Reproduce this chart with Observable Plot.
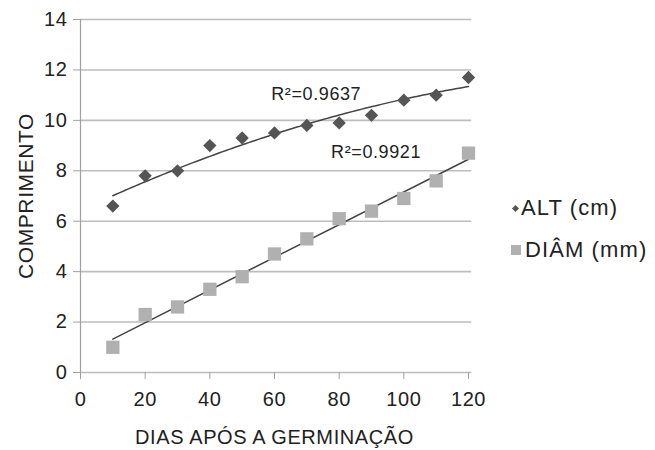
<!DOCTYPE html>
<html>
<head>
<meta charset="utf-8">
<script src="https://cdn.jsdelivr.net/npm/d3@7"></script>
<script src="https://cdn.jsdelivr.net/npm/@observablehq/plot@0.6"></script>
<style>
  html, body { margin: 0; padding: 0; background: #fff; }
  #wrap { position: relative; width: 655px; height: 450px; font-family: "Liberation Sans", Arial, sans-serif; }
  #legend { position: absolute; left: 510px; top: 187px; font-size: 22px; letter-spacing: 1.1px; color: #222; line-height: 42px; }
  #legend .it { display: flex; align-items: center; white-space: nowrap; }
  #legend .dia { width: 5px; height: 5px; background: #555; transform: rotate(45deg); margin: 0 3px 0 3px; }
  #legend .sq { width: 10px; height: 10px; background: #b0b0b0; margin: 0 4px 0 1px; }
  svg text { letter-spacing: 0.6px; }
</style>
</head>
<body>
<div id="wrap"></div>
<script>
// Data
const dias = [10, 20, 30, 40, 50, 60, 70, 80, 90, 100, 110, 120];
const alt  = [6.6, 7.8, 8.0, 9.0, 9.3, 9.5, 9.8, 9.9, 10.2, 10.8, 11.0, 11.7];
const diam = [1.0, 2.3, 2.6, 3.3, 3.8, 4.7, 5.3, 6.1, 6.4, 6.9, 7.6, 8.7];
const seriesNames = ["ALT (cm)", "DIÂM (mm)"];
const r2Labels = ["R²=0.9637", "R²=0.9921"];
const r2LabelX = [59, 77.5];    // data units
const r2LabelY = [11.05, 8.75]; // data units
const xTicks = [0, 20, 40, 60, 80, 100, 120];
const yTicks = [0, 2, 4, 6, 8, 10, 12, 14];

const altData = dias.map((d, i) => ({x: d, y: alt[i]}));
const diamData = dias.map((d, i) => ({x: d, y: diam[i]}));

// Second-order polynomial trend for ALT (least squares), as in the original spreadsheet
function polyFit2(xs, ys) {
  const S = k => d3.sum(xs, x => x ** k);
  const T = k => d3.sum(xs, (x, i) => x ** k * ys[i]);
  const A = [[S(0), S(1), S(2)], [S(1), S(2), S(3)], [S(2), S(3), S(4)]];
  const B = [T(0), T(1), T(2)];
  for (let c = 0; c < 3; c++) {
    for (let r = c + 1; r < 3; r++) {
      const f = A[r][c] / A[c][c];
      for (let k = c; k < 3; k++) A[r][k] -= f * A[c][k];
      B[r] -= f * B[c];
    }
  }
  const co = [0, 0, 0];
  for (let r = 2; r >= 0; r--) {
    let s = B[r];
    for (let k = r + 1; k < 3; k++) s -= A[r][k] * co[k];
    co[r] = s / A[r][r];
  }
  return x => co[0] + co[1] * x + co[2] * x * x;
}
const altFn = polyFit2(dias, alt);
const [x0, x1] = d3.extent(dias);
const altTrend = d3.range(x0, x1 + 0.5, 1).map(x => ({x, y: altFn(x)}));

const labels = r2Labels.map((t, i) => ({x: r2LabelX[i], y: r2LabelY[i], t}));

const chart = Plot.plot({
  width: 655,
  height: 450,
  marginLeft: 80,
  marginRight: 187,
  marginTop: 19,
  marginBottom: 78,
  style: {fontFamily: "'Liberation Sans', Arial, sans-serif", fontSize: "20px", color: "#222", background: "#fff"},
  x: {domain: [0, 120]},
  y: {domain: [0, 14]},
  marks: [
    Plot.ruleY(yTicks, {stroke: "#bdbdbd", strokeWidth: 1.6, x1: 0, x2: 121}),
    Plot.ruleX([0], {stroke: "#a0a0a0", strokeWidth: 1.2}),
    Plot.axisY({ticks: yTicks, tickSize: 7, tickPadding: 6, stroke: "#a0a0a0", fill: "#222", fontSize: 20,
      label: null}),
    Plot.axisY({ticks: [], tickSize: 0, fontSize: 21,
      label: "COMPRIMENTO", labelAnchor: "center", labelArrow: "none", labelOffset: 62, fill: "#222"}),
    Plot.axisX({ticks: xTicks, tickSize: 7, tickPadding: 12, stroke: "#a0a0a0", fill: "#222", fontSize: 20,
      label: null}),
    Plot.axisX({ticks: [], tickSize: 0, fontSize: 20,
      label: "DIAS APÓS A GERMINAÇÃO", labelAnchor: "center", labelArrow: "none", labelOffset: 71, fill: "#222"}),
    Plot.line(altTrend, {x: "x", y: "y", stroke: "#444", strokeWidth: 1.5}),
    Plot.linearRegressionY(diamData, {x: "x", y: "y", stroke: "#444", strokeWidth: 1.5, ci: 0}),
    Plot.dot(diamData, {x: "x", y: "y", symbol: "square", r: 7.5, fill: "#b0b0b0", stroke: "none"}),
    Plot.dot(altData, {x: "x", y: "y", symbol: "diamond2", r: 6, fill: "#555", stroke: "none"}),
    Plot.text(labels, {x: "x", y: "y", text: "t", textAnchor: "start", fontSize: 18, fill: "#222"})
  ]
});
const wrap = document.getElementById("wrap");
wrap.appendChild(chart);

const legend = document.createElement("div");
legend.id = "legend";
legend.innerHTML = seriesNames.map((n, i) =>
  `<div class="it"><span class="${i === 0 ? "dia" : "sq"}"></span>${n}</div>`).join("");
wrap.appendChild(legend);
</script>
</body>
</html>
